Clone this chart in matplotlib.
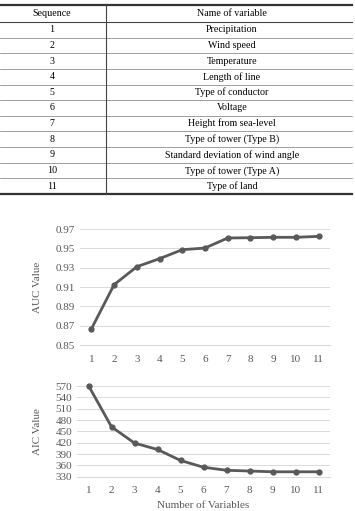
import matplotlib.pyplot as plt
import numpy as np

plt.rcParams['font.family'] = ['Liberation Serif', 'DejaVu Serif']

# table contents
seq = [str(i) for i in range(1, 12)]
names = ["Precipitation", "Wind speed", "Temperature", "Length of line",
         "Type of conductor", "Voltage", "Height from sea-level",
         "Type of tower (Type B)", "Standard deviation of wind angle",
         "Type of tower (Type A)", "Type of land"]

# chart data
n_vars = list(range(1, 12))
auc = [0.8666, 0.9124, 0.9310, 0.9393, 0.9486, 0.9503, 0.9607, 0.9610,
       0.9614, 0.9614, 0.9624]
aic = [571, 462, 419, 402, 373, 355, 347, 345, 343, 343, 343]

W, H = 355, 511
LINE = '#595959'
GRID = '#d9d9d9'
TXT = '#595959'

fig = plt.figure(figsize=(W / 100, H / 100), dpi=100)

# ---- table drawn in pixel coordinates ----
tab = fig.add_axes([0, 0, 1, 1])
tab.set_xlim(0, W)
tab.set_ylim(H, 0)
tab.axis('off')

top, head_bot, bot = 5, 22, 194
row_h = (bot - head_bot) / len(seq)
tab.plot([0, 352], [top, top], color='#333333', lw=1.6)
tab.plot([0, 352], [head_bot, head_bot], color='#444444', lw=0.8)
tab.plot([0, 352], [bot, bot], color='#333333', lw=1.6)
for i in range(1, len(seq)):
    y = head_bot + i * row_h
    tab.plot([0, 352], [y, y], color='#777777', lw=0.5)
tab.plot([106, 106], [top, bot], color='#444444', lw=0.8)

tab.text(52, (top + head_bot) / 2, "Sequence", ha='center', va='center', fontsize=7.2)
tab.text(232, (top + head_bot) / 2, "Name of variable", ha='center', va='center', fontsize=7.2)
for i, (s, nm) in enumerate(zip(seq, names)):
    y = head_bot + (i + 0.5) * row_h
    tab.text(52, y, s, ha='center', va='center', fontsize=7.2)
    tab.text(232, y, nm, ha='center', va='center', fontsize=7.2)


def style(ax):
    for sp in ['top', 'right', 'left']:
        ax.spines[sp].set_visible(False)
    ax.spines['bottom'].set_color(GRID)
    ax.tick_params(axis='both', length=0, colors=TXT, labelsize=8)
    ax.grid(axis='y', color=GRID, lw=0.7)
    ax.set_axisbelow(True)
    ax.set_xlim(0.5, 11.5)
    ax.set_xticks(n_vars)


# ---- AUC chart ----
ax1 = fig.add_axes([80 / W, 166 / H, 250 / W, 116 / H])
ax1.plot(n_vars, auc, color=LINE, lw=2, marker='o', ms=3.5, clip_on=False)
style(ax1)
ax1.set_ylim(0.85, 0.97)
ax1.set_yticks(np.arange(0.85, 0.971, 0.02))
ax1.set_yticklabels(['0.85', '0.87', '0.89', '0.91', '0.93', '0.95', '0.97'])
ax1.tick_params(axis='x', pad=7)
ax1.set_ylabel("AUC Value", color=TXT, fontsize=8, labelpad=10)

# ---- AIC chart ----
ax2 = fig.add_axes([77 / W, 34.3 / H, 253 / W, 90.7 / H])
ax2.plot(n_vars, aic, color=LINE, lw=2, marker='o', ms=3.5, clip_on=False)
style(ax2)
ax2.set_ylim(330, 570)
ax2.set_yticks(range(330, 571, 30))
ax2.tick_params(axis='x', pad=7)
ax2.set_ylabel("AIC Value", color=TXT, fontsize=8, labelpad=10)
ax2.set_xlabel("Number of Variables", color=TXT, fontsize=8, labelpad=4)

fig.savefig("out.png", dpi=100)
